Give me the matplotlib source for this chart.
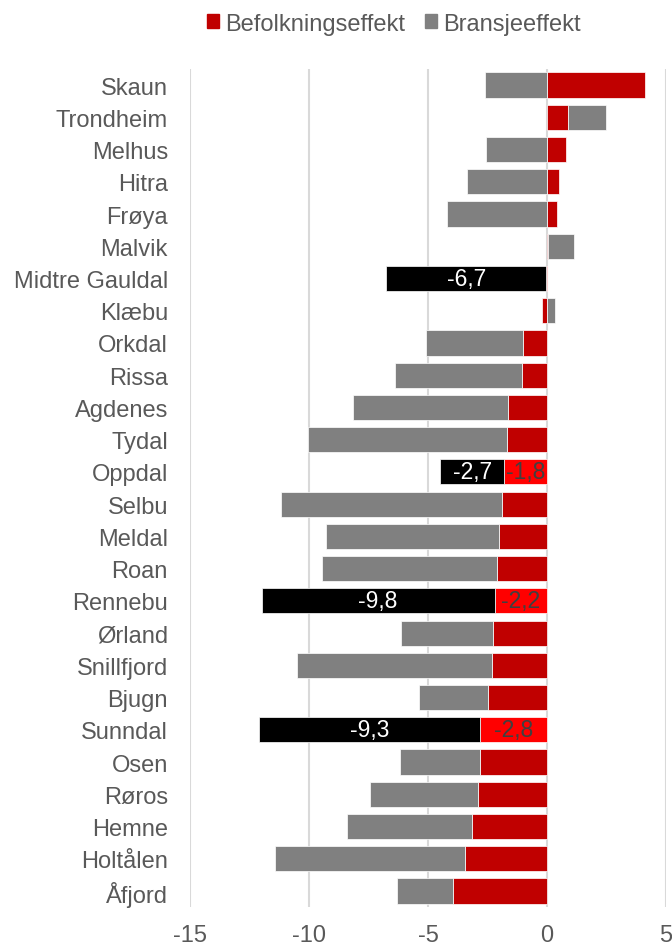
import numpy as np
import matplotlib
matplotlib.use("Agg")
import matplotlib.pyplot as plt
from matplotlib.patches import Patch

plt.rcParams['font.family'] = ['Liberation Sans', 'DejaVu Sans']

kommuner = ['Skaun', 'Trondheim', 'Melhus', 'Hitra', 'Frøya', 'Malvik', 'Midtre Gauldal',
            'Klæbu', 'Orkdal', 'Rissa', 'Agdenes', 'Tydal', 'Oppdal', 'Selbu', 'Meldal',
            'Roan', 'Rennebu', 'Ørland', 'Snillfjord', 'Bjugn', 'Sunndal', 'Osen', 'Røros',
            'Hemne', 'Holtålen', 'Åfjord']
befolkning = [4.1, 0.9, 0.8, 0.5, 0.4, 0.05, -0.05, -0.2, -1.0, -1.05, -1.65, -1.7, -1.8,
              -1.9, -2.0, -2.1, -2.2, -2.25, -2.3, -2.5, -2.8, -2.8, -2.9, -3.15, -3.45, -3.95]
bransje = [-2.6, 1.6, -2.55, -3.35, -4.2, 1.1, -6.7, 0.35, -4.1, -5.35, -6.5, -8.35, -2.7,
           -9.3, -7.3, -7.35, -9.8, -3.9, -8.2, -2.9, -9.3, -3.4, -4.55, -5.25, -8.0, -2.35]
uthevet = ['Midtre Gauldal', 'Oppdal', 'Rennebu', 'Sunndal']

red = '#C00000'
grey = '#808080'
txt = '#595959'

fig = plt.figure(figsize=(6.72, 9.45), dpi=100)
ax = fig.add_axes([0.283, 0.039, 0.708, 0.887])

y = np.arange(len(kommuner))
b = np.array(befolkning)
g = np.array(bransje)
# grå del stables videre fra rød når fortegnet er likt
g_left = np.where(np.sign(g) == np.sign(b), b, 0)

for i, k in enumerate(kommuner):
    hl = k in uthevet
    cr = '#FF0000' if hl else red
    cg = 'black' if hl else grey
    ax.barh(i, b[i], left=0, height=0.78, color=cr, edgecolor='white', linewidth=0.5, zorder=3)
    ax.barh(i, g[i], left=g_left[i], height=0.78, color=cg, edgecolor='white', linewidth=0.5, zorder=3)
    if hl:
        ax.text(g_left[i] + g[i] / 2, i, f"{g[i]:.1f}".replace('.', ','), ha='center', va='center',
                color='white', fontsize=16.5, zorder=4)
        if abs(b[i]) > 0.5:
            ax.text(b[i] / 2, i, f"{b[i]:.1f}".replace('.', ','), ha='center', va='center',
                    color='#404040', fontsize=16.5, zorder=4)

ax.set_xlim(-15, 5)
ax.set_ylim(len(kommuner) - 0.5, -0.5)
ax.set_xticks([-15, -10, -5, 0, 5])
ax.set_xticklabels(['-15', '-10', '-5', '0', '5'])
ax.set_yticks(y)
ax.set_yticklabels(kommuner)
ax.tick_params(axis='both', length=0, labelsize=17, labelcolor=txt)
ax.tick_params(axis='x', pad=12)
ax.tick_params(axis='y', pad=16)
ax.grid(axis='x', color='#D9D9D9', linewidth=1.5, zorder=0)
for s in ax.spines.values():
    s.set_visible(False)

handles = [Patch(color=red, label='Befolkningseffekt'), Patch(color=grey, label='Bransjeeffekt')]
fig.legend(handles=handles, loc='center', bbox_to_anchor=(0.586, 0.974), ncol=2, frameon=False,
           fontsize=17, labelcolor=txt, handlelength=0.5, handleheight=0.5, handletextpad=0.25,
           columnspacing=0.85, borderpad=0)

fig.savefig('out.png', dpi=100)
